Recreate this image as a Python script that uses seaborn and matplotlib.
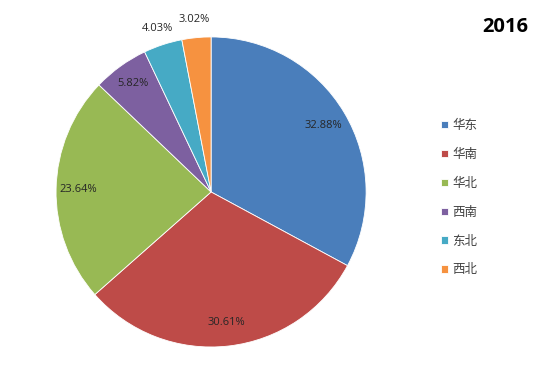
import numpy as np
import seaborn as sns
import matplotlib
matplotlib.use('Agg')
import matplotlib.pyplot as plt

regions = ['华东', '华南', '华北', '西南', '东北', '西北']
shares = [32.88, 30.61, 23.64, 5.82, 4.03, 3.02]
year = '2016'

# Excel 2010 default palette
colors = sns.color_palette(['#4A7EBB', '#BE4B48', '#98B954', '#7D60A0', '#46AAC5', '#F69240'])

sns.set_style('white')
plt.rcParams['font.family'] = ['Noto Sans CJK SC', 'DejaVu Sans']

fig = plt.figure(figsize=(5.45, 3.74), dpi=100)
ax = fig.add_axes([0.1028, 0.0722, 0.569, 0.829])

wedges, _ = ax.pie(shares, colors=colors, startangle=90, counterclock=False,
                   wedgeprops=dict(edgecolor='white', linewidth=0.6))
ax.set_xlim(-1, 1)
ax.set_ylim(-1, 1)
ax.set_aspect('equal')

# label distances (small slices get their label outside)
label_r = [0.84, 0.85, 0.86, 0.86, 1.11, 1.12]
for w, v, r in zip(wedges, shares, label_r):
    ang = np.deg2rad((w.theta1 + w.theta2) / 2)
    ax.text(r * np.cos(ang), r * np.sin(ang), f'{v:.2f}%', ha='center', va='center',
            fontsize=8, color='#262626', family=['Open Sans', 'DejaVu Sans'])

fig.text(0.927, 0.928, year, ha='center', va='center', fontsize=14.5, fontweight='bold',
         color='black', family=['Open Sans', 'DejaVu Sans'])

leg = fig.legend(wedges, regions, loc='upper left', bbox_to_anchor=(0.80, 0.695),
                 frameon=False, fontsize=9, handlelength=0.55, handleheight=0.55,
                 handletextpad=0.35, labelspacing=1.27, borderaxespad=0)
for t in leg.get_texts():
    t.set_color('#404040')

plt.savefig('out.png', dpi=100)
plt.close()
